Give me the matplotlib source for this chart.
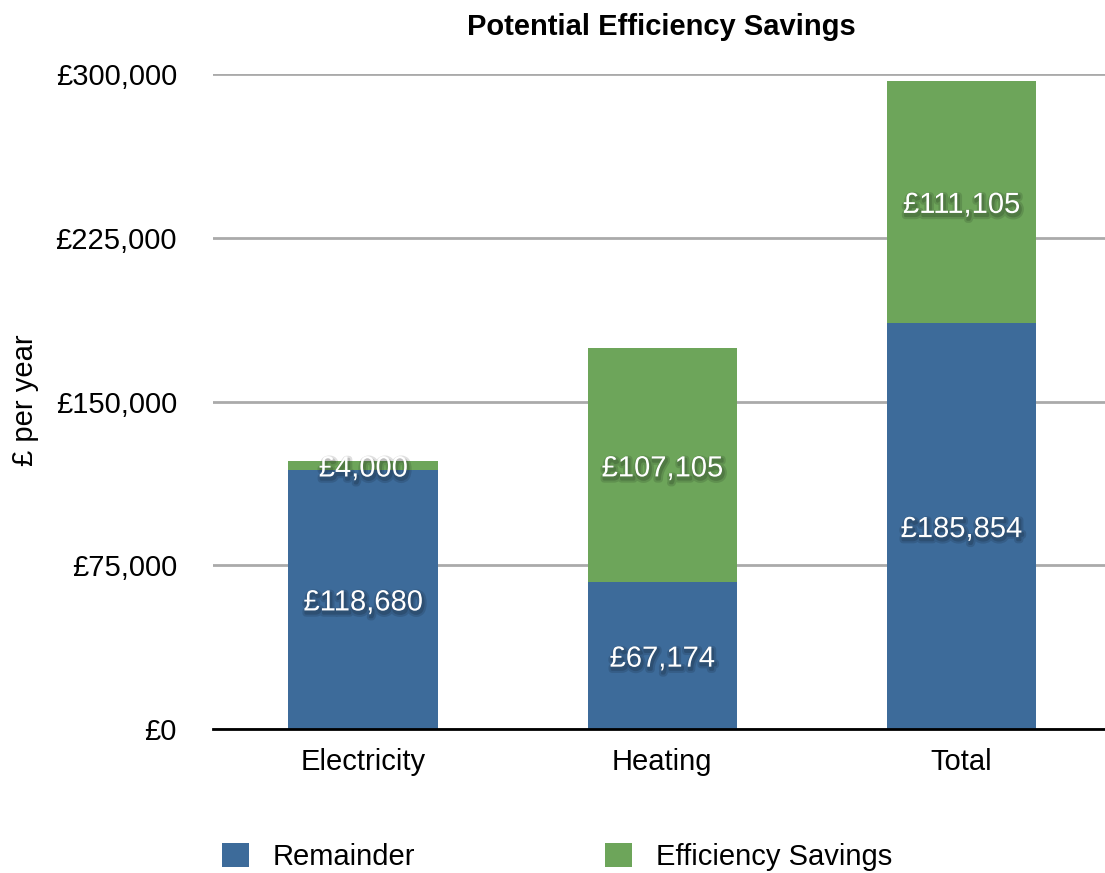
import numpy as np
import matplotlib
matplotlib.use('Agg')
import matplotlib.pyplot as plt
import matplotlib.patheffects as pe
from matplotlib.ticker import FuncFormatter

plt.rcParams['font.family'] = ['Liberation Sans', 'DejaVu Sans']

# data
categories = ['Electricity', 'Heating', 'Total']
remainder = [118680, 67174, 185854]
savings = [4000, 107105, 111105]
series_names = ['Remainder', 'Efficiency Savings']
yticks = [0, 75000, 150000, 225000, 300000]

blue = '#3d6b9a'
green = '#6da55a'

fig = plt.figure(figsize=(11.05, 8.73), dpi=100)
ax = fig.add_axes([213/1105, 1 - 729/873, 1 - 213/1105, (729 - 74)/873])

x = np.arange(len(categories))
b1 = ax.bar(x, remainder, width=0.5, color=blue, label=series_names[0], zorder=3)
b2 = ax.bar(x, savings, width=0.5, bottom=remainder, color=green,
            label=series_names[1], zorder=3)

# value labels, white with a soft shadow
soft = [pe.SimpleLineShadow(offset=(1, -2), shadow_color='black', alpha=0.12, linewidth=5),
        pe.SimpleLineShadow(offset=(1, -2), shadow_color='black', alpha=0.15, linewidth=2),
        pe.Normal()]
for i in range(len(categories)):
    for val, base in [(remainder[i], 0), (savings[i], remainder[i])]:
        t = ax.text(x[i], base + val / 2, '£{:,}'.format(val), ha='center',
                    va='center_baseline', color='white', fontsize=21, zorder=5)
        t.set_path_effects(soft)

ax.set_xlim(-0.502, 2.48)
ax.set_ylim(0, 300000)
ax.set_yticks(yticks)
ax.yaxis.set_major_formatter(FuncFormatter(lambda v, p: '£{:,.0f}'.format(v)))
ax.set_xticks(x)
ax.set_xticklabels(categories)
ax.tick_params(axis='both', length=0, labelsize=21)
ax.tick_params(axis='x', pad=14)
ax.tick_params(axis='y', pad=26)

ax.grid(axis='y', color='#aaaaaa', linewidth=2, zorder=0)
for s in ['top', 'right', 'left']:
    ax.spines[s].set_visible(False)
ax.spines['bottom'].set_linewidth(2)
ax.spines['bottom'].set_zorder(4)

fig.text(25/1105, 1 - 400/873, '£ per year', rotation=90, ha='center', va='center',
         fontsize=21)

fig.text(661/1105, 1 - 27/873, 'Potential Efficiency Savings', ha='center', va='center',
         fontsize=21, fontweight='bold')

fig.legend(handles=[b1, b2], loc='center left', bbox_to_anchor=(222/1105, 1 - 857/873),
           ncol=2, frameon=False, fontsize=21, borderpad=0, borderaxespad=0,
           handlelength=0.92, handleheight=0.92, handletextpad=0.82, columnspacing=6.5)

plt.savefig('out.png', dpi=100)
